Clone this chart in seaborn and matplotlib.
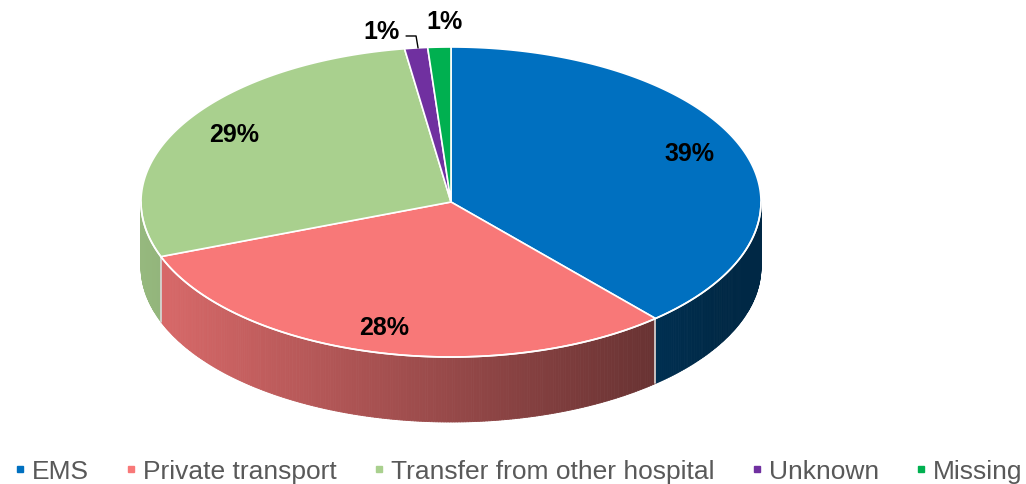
import numpy as np
import matplotlib
matplotlib.use("Agg")
import matplotlib.pyplot as plt
import seaborn as sns
from matplotlib.collections import PolyCollection
from matplotlib.patches import Polygon
from matplotlib.lines import Line2D
from matplotlib.colors import to_rgb

# ---- data ----
categories = ["EMS", "Private transport", "Transfer from other hospital", "Unknown", "Missing"]
values = [39, 28, 29, 1, 1]
value_labels = ["39%", "28%", "29%", "1%", "1%"]
colors = ["#0070C0", "#F87878", "#A9D08E", "#7030A0", "#00B050"]

# ---- style / geometry ----
W, H = 1026, 485
CX, CY, RX, RY, DEPTH, SKEW = 451, 203, 310, 155, 65, 1.176
LABEL_R = 0.8
LABEL_NUDGE = [(0, -15), (6, 7), (7, -14), (-35, -17), (5, -26)]
OUTSIDE = [False, False, False, True, True]

sns.set_theme(style="white")
plt.rcParams['font.family'] = ['Liberation Sans', 'DejaVu Sans']

fig = plt.figure(figsize=(W / 100, H / 100), dpi=100)
ax = fig.add_axes([0, 0, 1, 1])
ax.set_xlim(0, W)
ax.set_ylim(H, 0)
ax.axis('off')

frac = np.array(values, float) / np.sum(values)
bounds = np.concatenate([[0], np.cumsum(frac)]) * 2 * np.pi


def view(theta):
    return np.mod(np.arctan2(SKEW * np.sin(theta), np.cos(theta)), 2 * np.pi)


def xy(phi, r=1.0, dz=0.0):
    return CX + RX * r * np.sin(phi), CY - RY * r * np.cos(phi) + dz


phis = [view(b) for b in bounds]
phis[-1] = 2 * np.pi

# sides (front half only)
step = np.deg2rad(0.5)
for i, c in enumerate(colors):
    lo = max(phis[i], np.pi / 2)
    hi = min(phis[i + 1], 3 * np.pi / 2)
    if lo >= hi:
        continue
    n = max(2, int((hi - lo) / step))
    edges = np.linspace(lo, hi, n + 1)
    polys, fcs = [], []
    base = np.array(to_rgb(c))
    for a, b in zip(edges[:-1], edges[1:]):
        xa, ya = xy(a)
        xb, yb = xy(b)
        polys.append([(xa, ya), (xb, yb), (xb, yb + DEPTH), (xa, ya + DEPTH)])
        u = np.sin((a + b) / 2)
        f = np.clip(0.606 - 0.281 * u, 0.36, 1)
        fcs.append(tuple(base * f))
    pc = PolyCollection(polys, facecolors=fcs, edgecolors=fcs, linewidths=0.6, zorder=1)
    ax.add_collection(pc)

# side separators
for p in phis[1:-1]:
    if np.pi / 2 < p < 3 * np.pi / 2:
        x0, y0 = xy(p)
        ax.plot([x0, x0], [y0, y0 + DEPTH], color="#D9D9D9", lw=1.2, zorder=2)

# top faces
for i, c in enumerate(colors):
    arc = np.linspace(phis[i], phis[i + 1], max(3, int((phis[i + 1] - phis[i]) / step)))
    xs, ys = xy(arc)
    pts = [(CX, CY)] + list(zip(xs, ys))
    ax.add_patch(Polygon(pts, closed=True, facecolor=c, edgecolor="white", lw=1.2, zorder=3))

# front rim highlight
rim = np.linspace(np.pi / 2, 3 * np.pi / 2, 200)
rx_, ry_ = xy(rim)
ax.plot(rx_, ry_, color="white", lw=1.2, zorder=4)

# labels
for i, lab in enumerate(value_labels):
    mid = view((bounds[i] + bounds[i + 1]) / 2)
    dx, dy = LABEL_NUDGE[i]
    if OUTSIDE[i]:
        px, py = xy(mid, 1.0)
        tx, ty = px + dx, py + dy
        ax.text(tx, ty, lab, ha='center', va='center', fontsize=18, fontweight='bold',
                color='black', zorder=6)
        if i == 3:
            lx = tx + 25
            ly = ty + 5
            ax.plot([lx, lx + 10, px + 2], [ly, ly, py], color='black', lw=1, zorder=6)
    else:
        px, py = xy(mid, LABEL_R)
        ax.text(px + dx, py + dy, lab, ha='center', va='center', fontsize=18,
                fontweight='bold', color='black', zorder=6)

# legend
handles = [Line2D([], [], marker='s', ls='none', markersize=5, markerfacecolor=c,
                  markeredgecolor=c) for c in colors]
fig.legend(handles, categories, loc='center', bbox_to_anchor=(518 / W, 1 - 472 / H),
           ncol=5, frameon=False, fontsize=19, handlelength=0.5, handletextpad=0.2,
           columnspacing=1.35, labelcolor='#595959')

fig.savefig("out.png", dpi=100)
